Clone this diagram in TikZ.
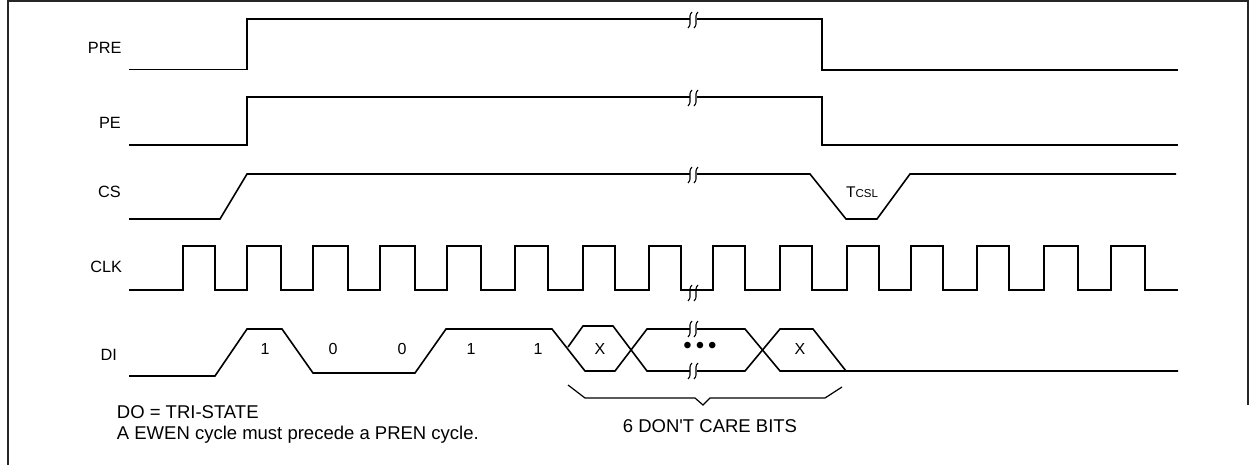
\documentclass[tikz,border=0pt]{standalone}
\usepackage{fontspec}
\setmainfont{Liberation Sans}
\begin{document}
\begin{tikzpicture}[x=1pt,y=-1pt,
  sig/.style={line width=1.6pt, line join=miter},
  frm/.style={line width=2.5pt, draw=black!85},
  lbl/.style={inner sep=0pt, font=\fontsize{16.3}{19}\selectfont},
  bit/.style={inner sep=0pt, font=\fontsize{16}{19}\selectfont},
  note/.style={inner sep=0pt, font=\fontsize{18.5}{21}\selectfont},
  brkmark/.pic={
    \fill[white] (-3.5,-2.2) rectangle (3.5,2.2);
    \draw[line width=1.1pt] (-1,-8) .. controls (-6,-3) and (0,3) .. (-5,8);
    \draw[line width=1.1pt] (5,-8) .. controls (0,-3) and (6,3) .. (1,8);
  }]
\useasboundingbox (0,0) rectangle (1251,465);
% frame
\draw[frm] (8,465) -- (8,1.25) -- (1248,1.25) -- (1248,405);
% labels
\node[lbl, anchor=east] (lpre) at (121.7,47.7) {PRE};
\node[lbl, anchor=east] (lpe) at (121,123) {PE};
\node[lbl, anchor=east] (lcs) at (121,191.7) {CS};
\node[lbl, anchor=east] (lclk) at (122.3,266.7) {CLK};
\node[lbl, anchor=east] (ldi) at (117,355) {DI};
% PRE
\draw[sig] (129,69.5) -- (247,69.5) -- (247,19) -- (822,19) -- (822,70) -- (1178,70);
\pic at (693,20) {brkmark};
% PE
\draw[sig] (129,145) -- (247,145) -- (247,97) -- (822,97) -- (822,145) -- (1178,145);
\pic at (693,98) {brkmark};
% CS
\draw[sig] (129,219) -- (220,219) -- (247,174) -- (810,174) -- (846,219) -- (877,219) -- (910,174) -- (1176,174);
\pic at (693,175) {brkmark};
\node[inner sep=0pt, anchor=base west] (tcsl) at (846,198)
  {{\fontsize{15.5}{18}\selectfont T}{\fontsize{11.5}{13}\selectfont CSL}};
% CLK
\draw[sig] (129,290) -- (183,290) |- (215,246) |- (247,290) |- (281,246) |- (313,290)
  |- (348,246) |- (380,290) |- (415,246) |- (447,290) |- (481,246) |- (515,290)
  |- (548,246) |- (583,290) |- (615,246) |- (649,290) |- (681,246) |- (713,290)
  |- (745,246) |- (780,290) |- (812,246) |- (847,290) |- (879,246) |- (911,290)
  |- (943,246) |- (977,290) |- (1009,246) |- (1044,290) |- (1078,246) |- (1111,290)
  |- (1145,246) |- (1178,290);
\pic at (693,293) {brkmark};
% DI
\draw[sig] (129,376) -- (215,376) -- (247,329) -- (282,329) -- (313,373) -- (415,373)
  -- (446,329) -- (552,329) -- (585,371) -- (615,371) -- (647,329) -- (745,329)
  -- (780,371) -- (1178,371);
\draw[sig] (568,347) -- (583,326) -- (613,326) -- (647,371) -- (745,371) -- (780,329)
  -- (813,329) -- (846,371);
\pic at (693,329) {brkmark};
\pic at (693,371) {brkmark};
\node[bit] (b1) at (265,348.5) {1};
\node[bit] (b2) at (333,348.5) {0};
\node[bit] (b3) at (402,348.5) {0};
\node[bit] (b4) at (471,348.5) {1};
\node[bit] (b5) at (538,348.5) {1};
\node[bit] (b6) at (600,348.5) {X};
\node[inner sep=0pt, font=\fontsize{24}{26}\selectfont] (b7) at (700,348)
  {\textbullet\hspace{4pt}\textbullet\hspace{4pt}\textbullet};
\node[bit] (b8) at (800,348.5) {X};
% brace
\draw[line width=1.2pt] (568,385) -- (585,398) -- (695,398) -- (703,405) -- (710,398) -- (825,398) -- (842,387);
\node[note, anchor=base] (dc) at (710,432) {6 DON\textquotesingle T CARE BITS};
% notes
\node[note, anchor=base west] (n1) at (116.7,418.5) {DO = TRI-STATE};
\node[note, anchor=base west] (n2) at (116.7,439.5) {A EWEN cycle must precede a PREN cycle.};
\end{tikzpicture}
\end{document}
